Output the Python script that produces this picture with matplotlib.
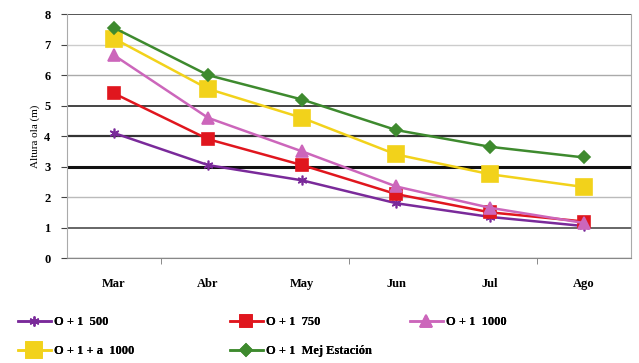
import matplotlib
matplotlib.use("Agg")
import matplotlib.pyplot as plt
import numpy as np

meses = ["Mar", "Abr", "May", "Jun", "Jul", "Ago"]

o1_500 = [4.1, 3.05, 2.55, 1.8, 1.35, 1.05]
o1_750 = [5.4, 3.9, 3.05, 2.1, 1.5, 1.2]
o1_1000 = [6.65, 4.6, 3.5, 2.35, 1.65, 1.15]
o1a_1000 = [7.2, 5.55, 4.6, 3.4, 2.75, 2.33]
o1_mej = [7.55, 6.0, 5.2, 4.2, 3.65, 3.3]

etiquetas = ["O + 1  500", "O + 1  750", "O + 1  1000",
             "O + 1 + a  1000", "O + 1  Mej Estación"]

plt.rcParams["font.family"] = ["Liberation Serif", "DejaVu Serif"]

W, H = 639, 363
fig = plt.figure(figsize=(W / 100, H / 100), dpi=100)
ax = fig.add_axes([0.105, 0.289, 0.8825, 0.672])

x = np.arange(len(meses))

# horizontal grid with uneven darkness
grid_style = {0: ("#777777", 1.0), 1: ("#666666", 1.4), 2: ("#bbbbbb", 1.0),
              3: ("#111111", 2.2), 4: ("#333333", 1.6), 5: ("#444444", 1.4),
              6: ("#aaaaaa", 1.0), 7: ("#cccccc", 1.0), 8: ("#555555", 1.4)}
for lvl, (c, lw) in grid_style.items():
    ax.axhline(lvl, color=c, lw=lw, zorder=1)

series = [
    (o1_500, "#7a2a9a", (6, 2, 0), 7, 1.8),
    (o1_750, "#e0161e", "s", 8, 1.8),
    (o1_1000, "#cc66bb", "^", 8, 1.8),
    (o1a_1000, "#f2d21b", "s", 11, 1.8),
    (o1_mej, "#3e8a2e", "D", 6, 1.8),
]
handles = []
for (vals, col, mk, ms, lw), lab in zip(series, etiquetas):
    h, = ax.plot(x, vals, color=col, marker=mk, markersize=ms, lw=lw,
                 markeredgecolor=col, markeredgewidth=1.2, label=lab, zorder=3)
    handles.append(h)

ax.set_xlim(-0.5, len(meses) - 0.5)
ax.set_ylim(0, 8)
ax.set_yticks(range(0, 9))
ax.set_xticks(x)
ax.set_xticklabels(meses, fontweight="bold")
ax.set_yticklabels([str(v) for v in range(0, 9)], fontweight="bold")
ax.set_xticks([0.5, 2.5, 4.5], minor=True)
ax.tick_params(axis="x", which="major", length=0, pad=14, labelsize=9)
ax.tick_params(axis="x", which="minor", length=4, color="#777777")
ax.tick_params(axis="y", length=4, color="#444444", labelsize=9, pad=8)

ax.spines["top"].set_visible(False)
ax.spines["left"].set_color("#aaaaaa")
ax.spines["right"].set_color("#aaaaaa")
ax.spines["bottom"].set_color("#888888")

ax.set_ylabel("Altura ola (m)", fontsize=8, labelpad=3)

# legend laid out as three separate columns
columnas = [([0, 3], 18), ([1, 4], 230), ([2], 410)]
for idx, x0 in columnas:
    lg = fig.legend([handles[i] for i in idx], [etiquetas[i] for i in idx],
                    loc="upper left", bbox_to_anchor=(x0 / W, 1 - 316 / H),
                    frameon=False, borderpad=0, borderaxespad=0,
                    handlelength=2.6, handletextpad=0.3, labelspacing=1.35,
                    prop={"size": 9, "weight": "bold"})
    fig.add_artist(lg)

fig.savefig("out.png", dpi=100)
